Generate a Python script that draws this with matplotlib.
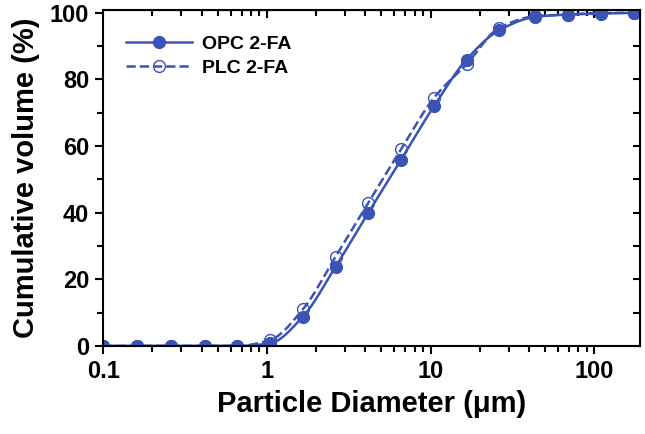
import numpy as np
import matplotlib
matplotlib.use("Agg")
import matplotlib.pyplot as plt
from matplotlib.ticker import MultipleLocator, LogLocator, NullFormatter

plt.rcParams['font.family'] = ['Liberation Sans', 'DejaVu Sans']
plt.rcParams['font.weight'] = 'bold'

# particle diameter (um)
diam = [0.1, 0.16, 0.26, 0.42, 0.66, 1.05, 1.66, 2.63, 4.17, 6.6,
        10.5, 16.6, 26.3, 43.7, 69.2, 110, 174]
opc = [0, 0, 0, 0, 0, 0.8, 8.8, 23.8, 40.0, 55.9,
       72.0, 86.0, 94.8, 98.8, 99.5, 99.8, 100]
plc = [0, 0, 0, 0, 0, 1.8, 11.0, 26.8, 43.0, 59.0,
       74.5, 84.6, 95.5, 99.0, 99.5, 100, 100]

blue = '#3a53b5'


def pchip(x, y, xn):
    # monotone cubic interpolation, just for drawing a smooth curve
    x = np.asarray(x, float); y = np.asarray(y, float)
    h = np.diff(x); d = np.diff(y) / h
    m = np.zeros_like(y)
    for i in range(1, len(x) - 1):
        if d[i-1] * d[i] > 0:
            w1 = 2*h[i] + h[i-1]; w2 = h[i] + 2*h[i-1]
            m[i] = (w1 + w2) / (w1/d[i-1] + w2/d[i])
    m[0] = d[0]; m[-1] = d[-1]
    idx = np.clip(np.searchsorted(x, xn) - 1, 0, len(x) - 2)
    t = (xn - x[idx]) / h[idx]
    h00 = 2*t**3 - 3*t**2 + 1; h10 = t**3 - 2*t**2 + t
    h01 = -2*t**3 + 3*t**2; h11 = t**3 - t**2
    return (h00*y[idx] + h10*h[idx]*m[idx] + h01*y[idx+1]
            + h11*h[idx]*m[idx+1])


fig = plt.figure(figsize=(6.45, 4.34), dpi=100)
ax = fig.add_axes([0.160, 0.203, 0.832, 0.775])

lx = np.log10(diam)
xs = np.linspace(lx[0], lx[-1], 400)
ax.plot(diam, plc, 'o', ls='none', mfc='none', mec=blue, ms=8.5, mew=1.0)
ax.plot(10**xs, pchip(lx, plc, xs), '--', color=blue, lw=1.8)
ax.plot(10**xs, pchip(lx, opc, xs), '-', color=blue, lw=1.8)
ax.plot(diam, opc, 'o', ls='none', color=blue, ms=8.5)

# legend proxies
ax.plot([], [], '-o', color=blue, lw=1.8, ms=8.5, label='OPC 2-FA')
ax.plot([], [], '--o', color=blue, lw=1.8, ms=8.5, mfc='none',
        mew=1.0, label='PLC 2-FA')
leg = ax.legend(loc='upper left', bbox_to_anchor=(0.01, 0.975),
                frameon=False, handlelength=3.4, fontsize=14,
                labelspacing=0.3, handletextpad=0.5)

ax.set_xscale('log')
ax.set_xlim(0.1, 190)
ax.set_ylim(0, 101)
ax.set_xticks([0.1, 1, 10, 100])
ax.set_xticklabels(['0.1', '1', '10', '100'])
ax.xaxis.set_minor_locator(LogLocator(base=10, subs=np.arange(2, 10)))
ax.xaxis.set_minor_formatter(NullFormatter())
ax.yaxis.set_major_locator(MultipleLocator(20))
ax.yaxis.set_minor_locator(MultipleLocator(10))

ax.tick_params(which='both', direction='out', width=1.5, labelsize=17,
               pad=4)
ax.tick_params(which='major', length=6)
ax.tick_params(which='minor', length=4)
for s in ax.spines.values():
    s.set_linewidth(1.5)

# inward ticks on top and right
axt = ax.secondary_xaxis('top')
axt.set_xticks([0.1, 1, 10, 100])
axt.xaxis.set_minor_locator(LogLocator(base=10, subs=np.arange(2, 10)))
axt.tick_params(which='both', direction='in', width=1.5, labeltop=False)
axt.tick_params(which='major', length=6)
axt.tick_params(which='minor', length=4)
axr = ax.secondary_yaxis('right')
axr.yaxis.set_major_locator(MultipleLocator(10))
axr.tick_params(direction='in', width=1.5, length=5, labelright=False)

ax.set_xlabel('Particle Diameter (\u03bcm)', fontsize=21, fontweight='bold',
              labelpad=5)
ax.set_ylabel('Cumulative volume (%)', fontsize=21, fontweight='bold',
              labelpad=7)

fig.savefig('out.png', dpi=100)
